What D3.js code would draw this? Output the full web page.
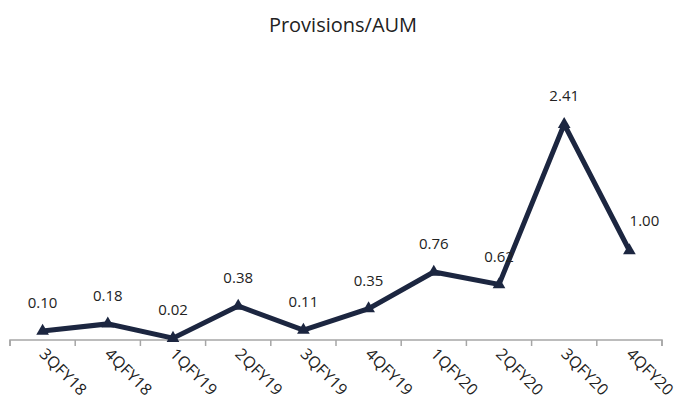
<!DOCTYPE html>
<html>
<head>
<meta charset="utf-8">
<script src="https://cdn.jsdelivr.net/npm/d3@7"></script>
<style>
  body { margin: 0; background: #fff; }
  text { font-family: "Open Sans", "DejaVu Sans", sans-serif; fill: #222; }
</style>
</head>
<body>
<svg id="chart" width="685" height="403"></svg>
<script>
const quarters = ["3QFY18", "4QFY18", "1QFY19", "2QFY19", "3QFY19", "4QFY19", "1QFY20", "2QFY20", "3QFY20", "4QFY20"];
const provisionsAUM = [0.10, 0.18, 0.02, 0.38, 0.11, 0.35, 0.76, 0.62, 2.41, 1.00];
const valueLabels = ["0.10", "0.18", "0.02", "0.38", "0.11", "0.35", "0.76", "0.62", "2.41", "1.00"];

const svg = d3.select("#chart");
const left = 10, right = 662, axisY = 340;

const x = d3.scaleBand().domain(quarters).range([left, right]);
const y = d3.scaleLinear().domain([0, 3]).range([axisY, axisY - 3 * 89.5]);

// Title
svg.append("text")
  .attr("x", 343).attr("y", 32)
  .attr("text-anchor", "middle")
  .style("font-size", "20px")
  .text("Provisions/AUM");

// Category axis line with ticks on the band boundaries
const axisG = svg.append("g").attr("transform", `translate(0,${axisY})`);
axisG.append("path")
  .attr("fill", "none")
  .attr("stroke", "#a6a6a6").attr("stroke-width", 1.5)
  .attr("d", `M${left},6V0H${right}V6`);
const bounds = quarters.map(q => x(q)).concat([right]);
axisG.selectAll("line").data(bounds).enter().append("line")
  .attr("x1", d => d).attr("x2", d => d)
  .attr("y1", 0).attr("y2", 6)
  .attr("stroke", "#a6a6a6").attr("stroke-width", 1.5);

// Rotated category labels
svg.append("g").selectAll("text").data(quarters).enter().append("text")
  .attr("transform", d => `translate(${x(d) + x.bandwidth() / 2 - 4},${axisY + 15}) rotate(45)`)
  .attr("text-anchor", "start")
  .style("font-size", "16px")
  .style("letter-spacing", "0.3px")
  .text(d => d);

const cx = d => x(d) + x.bandwidth() / 2;
const pts = quarters.map((q, i) => [cx(q), y(provisionsAUM[i])]);

// Series line
svg.append("path")
  .datum(pts)
  .attr("fill", "none")
  .attr("stroke", "#1c2640")
  .attr("stroke-width", 5)
  .attr("stroke-linejoin", "miter")
  .attr("d", d3.line());

// Triangle markers
const tri = d3.symbol().type(d3.symbolTriangle).size(70);
svg.append("g").selectAll("path").data(pts).enter().append("path")
  .attr("transform", d => `translate(${d[0]},${d[1]})`)
  .attr("d", tri)
  .attr("fill", "#1c2640");

// Value labels
svg.append("g").selectAll("text").data(quarters).enter().append("text")
  .attr("x", (d, i) => cx(d) + (i === quarters.length - 1 ? 15 : 0))
  .attr("y", (d, i) => y(provisionsAUM[i]) - (i === quarters.length - 1 ? 25 : 23))
  .attr("text-anchor", "middle")
  .style("font-size", "15px")
  .text((d, i) => valueLabels[i]);
</script>
</body>
</html>
